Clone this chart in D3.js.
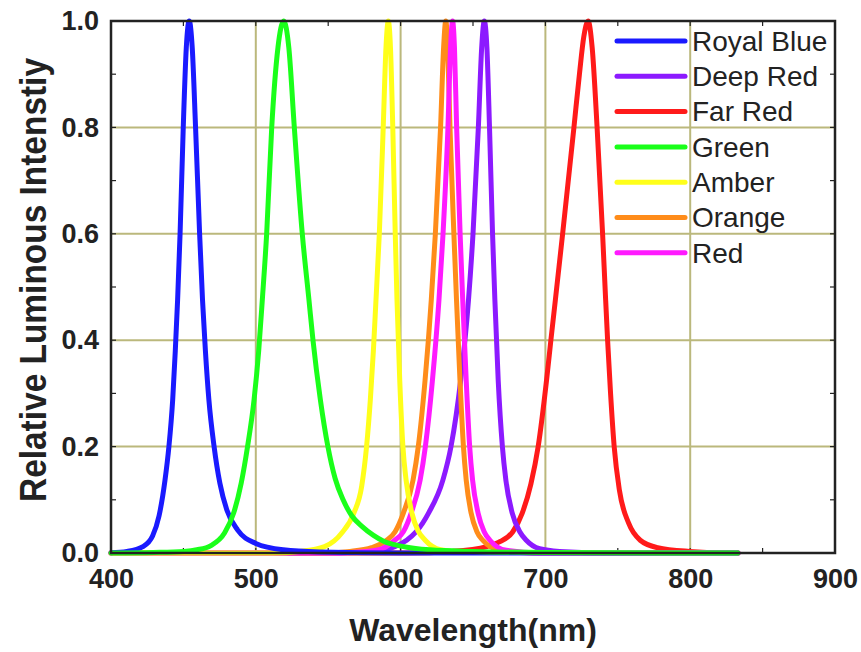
<!DOCTYPE html>
<html><head><meta charset="utf-8">
<script src="https://cdn.jsdelivr.net/npm/d3@7"></script>
<style>
html,body{margin:0;padding:0;background:#fff;}
svg{display:block;}
</style>
</head><body>
<svg id="chart" width="861" height="652"></svg>
<script>
// ---------------- data ----------------
const seriesNames = ["Royal Blue","Deep Red","Far Red","Green","Amber","Orange","Red"];
const seriesColors = ["#1a1aff","#8c1aff","#ff1a1a","#1aff1a","#ffff1a","#ff8c1a","#ff1aff"];
const xTicks = [400,500,600,700,800,900];
const yTicks = [0,0.2,0.4,0.6,0.8,1.0];

const royalBlue = [[400,0.0005],[411,0.003],[422,0.012],[428.7,0.032],[433.2,0.07],[437.2,0.135],[440,0.2],[442.6,0.288],[444.4,0.38],[446,0.476],[447.7,0.6],[449.9,0.8],[452,0.95],[454,1.0],[456.1,0.95],[458.4,0.8],[461.2,0.6],[463.2,0.476],[465.2,0.38],[467.6,0.288],[471.2,0.2],[475.2,0.131],[480,0.081],[487.5,0.043],[500,0.018],[519,0.006],[544,0.002],[600,0],[833,0]];
const deepRed = [[400,0],[557.8,0],[585,0.005],[596,0.012],[604.2,0.024],[610.8,0.04],[619.3,0.075],[629.2,0.137],[634.8,0.2],[641.5,0.325],[646.9,0.476],[650,0.6],[653.7,0.8],[656,0.95],[657.8,1.0],[659.6,0.95],[661.4,0.8],[663.5,0.6],[665.1,0.476],[667.4,0.325],[670.3,0.2],[672.7,0.137],[677.1,0.075],[682.3,0.04],[686.8,0.024],[696,0.008],[709.8,0.003],[747.8,0],[833,0]];
const farRed = [[400,0],[604.5,0],[635.5,0.003],[659.5,0.012],[667.5,0.02],[677.5,0.04],[684,0.075],[690,0.13],[695,0.2],[700.8,0.325],[703.7,0.398],[706.9,0.476],[711.9,0.6],[719.7,0.8],[723.5,0.9],[726.5,0.97],[729.5,1.0],[732.3,0.95],[735.7,0.8],[739.5,0.6],[741.6,0.476],[743,0.398],[745,0.3],[747.5,0.2],[751.1,0.118],[757.5,0.056],[765.5,0.024],[777.5,0.01],[799.5,0.003],[829.5,0],[833,0]];
const green = [[400,0],[429.3,0.001],[450.3,0.003],[459.3,0.006],[469,0.014],[478.5,0.038],[484.7,0.075],[489.9,0.131],[494.3,0.2],[498.8,0.288],[502,0.38],[504.5,0.476],[507.5,0.6],[511,0.8],[515.3,0.95],[519.3,1.0],[522.8,0.95],[526.6,0.8],[532.1,0.6],[536.7,0.476],[539.5,0.4],[544.6,0.288],[549.8,0.2],[554.8,0.14],[560.3,0.1],[566.3,0.07],[573.3,0.05],[581.3,0.033],[588.3,0.022],[600.3,0.013],[620.3,0.006],[650.3,0.003],[699.3,0.001],[833,0]];
const amber = [[400,0],[511.5,0],[530.5,0.003],[547.5,0.012],[559.5,0.038],[567.7,0.075],[573.1,0.125],[576.5,0.2],[579.1,0.288],[581.2,0.38],[583,0.476],[585.3,0.6],[588,0.8],[589.9,0.95],[591.5,1.0],[593,0.95],[594.6,0.8],[596.3,0.6],[597.5,0.476],[599.4,0.325],[601.6,0.2],[603.8,0.137],[607.8,0.075],[612,0.042],[617,0.024],[627.5,0.006],[645.5,0.001],[833,0]];
const orange = [[400,0],[545.2,0],[565.2,0.003],[580,0.01],[590.4,0.024],[596.2,0.04],[601.9,0.075],[608.6,0.137],[612.2,0.2],[616.9,0.325],[621.2,0.476],[624,0.6],[627.6,0.8],[629.7,0.95],[631.2,1.0],[632.5,0.95],[634.1,0.8],[636.8,0.6],[638.6,0.476],[641,0.325],[643.4,0.2],[645.3,0.137],[648.7,0.075],[652.7,0.04],[656.7,0.024],[668.6,0.005],[691.2,0],[833,0]];
const red = [[400,0],[545.9,0],[565.9,0.001],[584.9,0.006],[596,0.024],[601.9,0.04],[607.3,0.075],[613.5,0.137],[617.1,0.2],[622,0.325],[626.5,0.476],[629.3,0.6],[632.7,0.8],[634.5,0.95],[635.9,1.0],[637.2,0.95],[638.7,0.8],[641.1,0.6],[642.9,0.476],[645.3,0.325],[647.7,0.2],[649.7,0.137],[653.5,0.075],[657.7,0.04],[661.7,0.024],[673,0.005],[695.9,0],[833,0]];

const seriesData = [royalBlue, deepRed, farRed, green, amber, orange, red];
// draw order (last on top)
const drawOrder = [2,1,5,6,4,0,3];

// ---------------- layout ----------------
const svg = d3.select("#chart");
const x = d3.scaleLinear().domain([400,900]).range([111,835]);
const y = d3.scaleLinear().domain([0,1]).range([553,21]);
const FONT = "'Liberation Sans', Arial, Helvetica, sans-serif";
const gridColor = "#bbb87c";
const axisColor = "#222";

// gridlines
svg.append("g").selectAll("line.h").data([0.2,0.4,0.6,0.8]).join("line")
  .attr("x1",x(400)).attr("x2",x(900)).attr("y1",d=>y(d)).attr("y2",d=>y(d))
  .attr("stroke",gridColor).attr("stroke-width",2);
svg.append("g").selectAll("line.v").data([500,600,700,800]).join("line")
  .attr("y1",y(0)).attr("y2",y(1)).attr("x1",d=>x(d)).attr("x2",d=>x(d))
  .attr("stroke",gridColor).attr("stroke-width",2);

// minor inward ticks
const yMinor = d3.range(1,10).map(i=>i/10);
const xMinor = d3.range(450,900,50);
const tk = svg.append("g").attr("stroke",axisColor).attr("stroke-width",1.2);
yMinor.forEach(v=>{
  tk.append("line").attr("x1",x(400)).attr("x2",x(400)+5).attr("y1",y(v)).attr("y2",y(v));
  tk.append("line").attr("x1",x(900)).attr("x2",x(900)-5).attr("y1",y(v)).attr("y2",y(v));
});
xMinor.forEach(v=>{
  tk.append("line").attr("y1",y(0)).attr("y2",y(0)-5).attr("x1",x(v)).attr("x2",x(v));
  tk.append("line").attr("y1",y(1)).attr("y2",y(1)+5).attr("x1",x(v)).attr("x2",x(v));
});

// curves
const line = d3.line().x(d=>x(d[0])).y(d=>y(d[1])).curve(d3.curveMonotoneX);
const curves = svg.append("g");
drawOrder.forEach(i=>{
  curves.append("path").datum(seriesData[i])
    .attr("d",line).attr("fill","none")
    .attr("stroke",seriesColors[i]).attr("stroke-width",5)
    .attr("stroke-linejoin","round").attr("stroke-linecap","round");
});

// frame
svg.append("rect").attr("x",x(400)).attr("y",y(1)).attr("width",x(900)-x(400)).attr("height",y(0)-y(1))
  .attr("fill","none").attr("stroke",axisColor).attr("stroke-width",2.5);

// axes
const xAxis = d3.axisBottom(x).tickValues(xTicks).tickFormat(d3.format("d")).tickSize(0).tickPadding(16);
const gx = svg.append("g").attr("transform",`translate(0,${y(0)})`).call(xAxis);
gx.select(".domain").remove();
gx.selectAll("text").attr("font-family",FONT).attr("font-size",27).attr("font-weight","bold").attr("fill",axisColor);

const yAxis = d3.axisLeft(y).tickValues(yTicks).tickFormat(d3.format(".1f")).tickSize(0).tickPadding(12);
const gy = svg.append("g").attr("transform",`translate(${x(400)},0)`).call(yAxis);
gy.select(".domain").remove();
gy.selectAll("text").attr("font-family",FONT).attr("font-size",27).attr("font-weight","bold").attr("fill",axisColor);

// titles
svg.append("text").attr("x",(x(400)+x(900))/2).attr("y",641)
  .attr("text-anchor","middle").attr("font-family",FONT).attr("font-size",32).attr("font-weight","bold")
  .attr("fill",axisColor).text("Wavelength(nm)");
svg.append("text").attr("transform","translate(46,280) rotate(-90)")
  .attr("text-anchor","middle").attr("font-family",FONT).attr("font-size",37).attr("font-weight","bold")
  .attr("fill",axisColor).attr("textLength",444).attr("lengthAdjust","spacingAndGlyphs")
  .text("Relative Luminous Intenstiy");

// legend
const lg = svg.append("g");
seriesNames.forEach((name,i)=>{
  const ly = 41 + i*35.3;
  lg.append("line").attr("x1",617).attr("x2",685).attr("y1",ly).attr("y2",ly)
    .attr("stroke",seriesColors[i]).attr("stroke-width",5).attr("stroke-linecap","round");
  lg.append("text").attr("x",692).attr("y",ly+9.7).attr("font-family",FONT).attr("font-size",28)
    .attr("fill",axisColor).text(name);
});
</script>
</body></html>
